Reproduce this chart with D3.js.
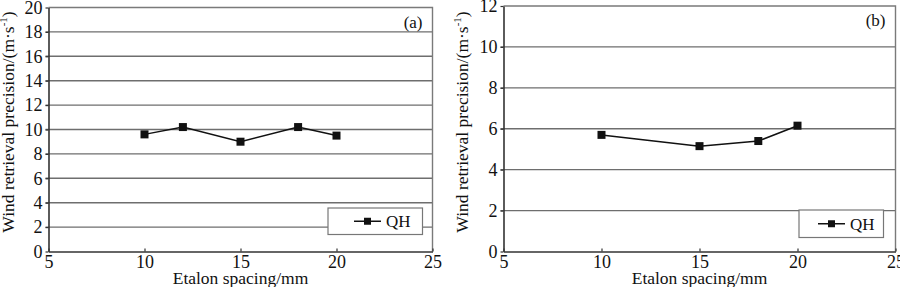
<!DOCTYPE html>
<html>
<head>
<meta charset="utf-8">
<script src="https://cdn.jsdelivr.net/npm/d3@7"></script>
<style>
  body { margin: 0; background: #fff; }
  svg { display: block; }
  text { font-family: "Liberation Serif", "Times New Roman", serif; fill: #111; }
</style>
</head>
<body>
<div id="chart"></div>
<script>
const spacingA = [10, 12, 15, 18, 20];
const precisionA = [9.6, 10.2, 9.0, 10.2, 9.5];

const spacingB = [10, 15, 18, 20];
const precisionB = [5.7, 5.15, 5.4, 6.15];

const xTicks = [5, 10, 15, 20, 25];
const yTicksA = [0, 2, 4, 6, 8, 10, 12, 14, 16, 18, 20];
const yTicksB = [0, 2, 4, 6, 8, 10, 12];

const seriesName = "QH";
const xTitle = "Etalon spacing/mm";

const width = 900;
const height = 287;

const svg = d3.select("#chart")
  .append("svg")
  .attr("width", width)
  .attr("height", height);

function panel(opts) {
  const { left, right, top, bottom, xs, ys, yTicks, yMax, tag, legend, titleX } = opts;

  const x = d3.scaleLinear().domain([5, 25]).range([left, right]);
  const y = d3.scaleLinear().domain([0, yMax]).range([bottom, top]);

  const g = svg.append("g");

  // gridlines
  g.append("g")
    .selectAll("line")
    .data(yTicks.filter((d) => d > 0 && d < yMax))
    .join("line")
    .attr("x1", left - 3)
    .attr("x2", right)
    .attr("y1", (d) => y(d))
    .attr("y2", (d) => y(d))
    .attr("stroke", "#6e6e6e")
    .attr("stroke-width", 1.4);

  // frame top/right
  g.append("path")
    .attr("d", "M" + left + "," + top + "H" + right + "V" + bottom)
    .attr("fill", "none")
    .attr("stroke", "#7a7a7a")
    .attr("stroke-width", 1.4);

  // left axis
  const yAxis = g.append("g")
    .attr("transform", "translate(" + left + ",0)")
    .call(d3.axisLeft(y).tickValues(yTicks).tickSize(3).tickSizeOuter(0).tickPadding(3))
    .attr("font-size", 18)
    .attr("font-family", "'Liberation Serif', serif");
  yAxis.select(".domain").attr("stroke", "#333").attr("stroke-width", 1.6);
  yAxis.selectAll(".tick line").attr("stroke", "#333").attr("stroke-width", 1.2);
  yAxis.selectAll("text").attr("fill", "#111");

  // bottom axis, ticks pointing inward
  const xAxis = g.append("g")
    .attr("transform", "translate(0," + bottom + ")")
    .call(d3.axisBottom(x).tickValues(xTicks).tickSize(-3).tickSizeOuter(0).tickPadding(4))
    .attr("font-size", 18)
    .attr("font-family", "'Liberation Serif', serif");
  xAxis.select(".domain").attr("stroke", "#333").attr("stroke-width", 1.6);
  xAxis.selectAll(".tick line").attr("stroke", "#333").attr("stroke-width", 1.2);
  xAxis.selectAll("text").attr("fill", "#111");

  // axis titles
  svg.append("text")
    .attr("x", (left + right) / 2)
    .attr("y", 284)
    .attr("text-anchor", "middle")
    .style("font-size", "17.5px")
    .text(xTitle);

  const yt = svg.append("text")
    .attr("transform", "translate(" + titleX + ",122) rotate(-90)")
    .attr("text-anchor", "middle")
    .style("font-size", "17.5px");
  yt.append("tspan").text("Wind retrieval precision/(m\u00b7s");
  yt.append("tspan").attr("dy", -7).style("font-size", "11px").text("-1");
  yt.append("tspan").attr("dy", 7).text(")");

  // panel tag
  svg.append("text")
    .attr("x", right - 10)
    .attr("y", top + 20)
    .attr("text-anchor", "end")
    .style("font-size", "17px")
    .text(tag);

  // legend
  const lg = g.append("g");
  lg.append("rect")
    .attr("x", legend.x0)
    .attr("y", legend.y0)
    .attr("width", legend.x1 - legend.x0)
    .attr("height", legend.y1 - legend.y0)
    .attr("fill", "#fff")
    .attr("stroke", "#777")
    .attr("stroke-width", 1.2);
  const ly = (legend.y0 + legend.y1) / 2;
  lg.append("line")
    .attr("x1", legend.lx)
    .attr("x2", legend.lx + 27)
    .attr("y1", ly)
    .attr("y2", ly)
    .attr("stroke", "#111")
    .attr("stroke-width", 1.5);
  lg.append("rect")
    .attr("x", legend.lx + 13.5 - 3.5)
    .attr("y", ly - 3.5)
    .attr("width", 7)
    .attr("height", 7)
    .attr("fill", "#111");
  lg.append("text")
    .attr("x", legend.lx + 32)
    .attr("y", ly + 6)
    .style("font-size", "17px")
    .text(seriesName);

  // series
  const pts = xs.map((v, i) => ({ x: v, y: ys[i] }));
  const line = d3.line().x((d) => x(d.x)).y((d) => y(d.y));
  g.append("path")
    .datum(pts)
    .attr("d", line)
    .attr("fill", "none")
    .attr("stroke", "#111")
    .attr("stroke-width", 1.5);
  g.append("g")
    .selectAll("rect")
    .data(pts)
    .join("rect")
    .attr("x", (d) => x(d.x) - 4)
    .attr("y", (d) => y(d.y) - 4)
    .attr("width", 8)
    .attr("height", 8)
    .attr("fill", "#111");
}

panel({
  left: 48.5, right: 432.5, top: 7.5, bottom: 251.5,
  xs: spacingA, ys: precisionA, yTicks: yTicksA, yMax: 20, tag: "(a)",
  legend: { x0: 328, x1: 422.5, y0: 208, y1: 234.5, lx: 354 },
  titleX: 14
});

panel({
  left: 503.5, right: 895.5, top: 6, bottom: 251.5,
  xs: spacingB, ys: precisionB, yTicks: yTicksB, yMax: 12, tag: "(b)",
  legend: { x0: 799, x1: 883.5, y0: 210, y1: 237.5, lx: 818 },
  titleX: 468
});
</script>
</body>
</html>
